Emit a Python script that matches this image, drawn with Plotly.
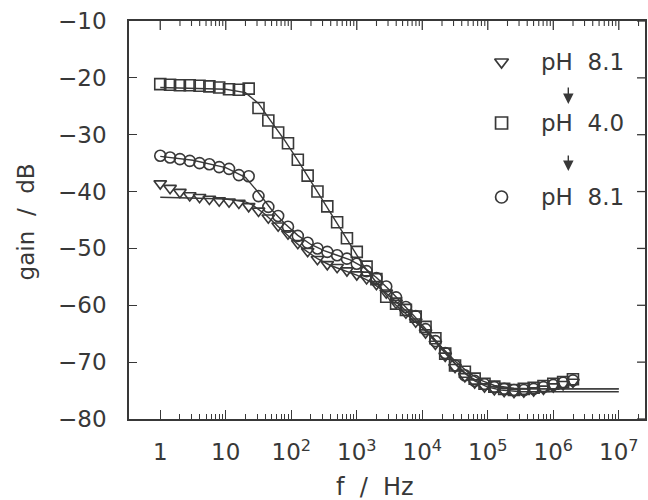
import math
import plotly.graph_objects as go

# ---- data (log10 of frequency in Hz, gain in dB) ----
LOGF = [0.00, 0.15, 0.30, 0.45, 0.60, 0.75, 0.90, 1.05, 1.20, 1.35, 1.50,
        1.65, 1.80, 1.95, 2.10, 2.25, 2.40, 2.55, 2.70, 2.85, 3.00, 3.15,
        3.30, 3.45, 3.60, 3.75, 3.90, 4.05, 4.20, 4.35, 4.50, 4.65, 4.80,
        4.95, 5.10, 5.25, 5.40, 5.55, 5.70, 5.85, 6.00, 6.15, 6.30]

gain_ph81_a = [-38.6, -39.4, -40.1, -40.7, -41.0, -41.3, -41.6, -41.8, -42.0, -42.6, -43.4,
               -44.6, -46.0, -47.4, -49.1, -50.5, -51.9, -52.8, -53.3, -53.9, -54.6, -55.3,
               -56.3, -57.8, -59.6, -61.3, -62.9, -64.8, -66.8, -68.9, -70.9, -72.5, -73.6,
               -74.3, -74.8, -75.1, -75.3, -75.2, -75.0, -74.7, -74.3, -73.9, -73.5]

gain_ph40 = [-21.1, -21.2, -21.3, -21.3, -21.4, -21.5, -21.7, -22.0, -22.1, -21.9, -25.3,
             -27.5, -29.6, -31.5, -34.4, -37.2, -40.0, -42.6, -45.4, -48.2, -50.6, -53.2,
             -55.4, -58.5, -59.7, -60.8, -62.0, -63.8, -65.8, -68.5, -70.6, -71.7, -72.9,
             -73.8, -74.3, -74.7, -74.9, -74.7, -74.5, -74.2, -73.8, -73.5, -73.0]

gain_ph81_b = [-33.7, -34.0, -34.3, -34.6, -35.0, -35.2, -35.7, -36.0, -37.1, -37.3, -40.8,
               -42.7, -44.3, -46.2, -47.8, -49.0, -50.0, -50.6, -51.2, -51.8, -52.7, -54.0,
               -55.2, -56.7, -58.6, -60.3, -61.9, -64.2, -66.3, -68.4, -70.6, -72.3, -73.3,
               -73.9, -74.4, -74.7, -74.9, -74.9, -74.7, -74.4, -74.0, -73.6, -73.2]

# fitted curves
FIT_A_LOGF = [0.0, 0.5, 1.0, 1.3, 1.4, 1.6, 1.8, 2.0, 2.2, 2.4, 2.6, 2.8, 3.0, 3.2, 3.4,
              3.6, 3.8, 4.0, 4.2, 4.4, 4.6, 4.8, 5.0, 5.2, 5.5, 6.0, 7.0]
FIT_A_GAIN = [-41.0, -41.1, -41.3, -41.8, -42.3, -44.0, -46.2, -48.3, -50.2, -51.8, -53.0,
              -53.9, -54.7, -55.8, -57.4, -59.4, -61.5, -63.8, -66.4, -69.1, -71.5, -73.3,
              -74.4, -74.9, -75.2, -75.2, -75.2]

FIT_40_LOGF = [0.0, 0.5, 1.0, 1.3, 1.5, 1.7, 1.9, 2.1, 2.3, 2.5, 2.7, 2.9, 3.1, 3.3, 3.5,
               3.7, 3.9, 4.1, 4.3, 4.5, 4.7, 4.9, 5.1, 5.4, 5.8, 6.3, 7.0]
FIT_40_GAIN = [-21.7, -21.8, -22.0, -22.6, -24.5, -27.8, -31.0, -34.5, -38.2, -42.0, -45.8,
               -49.5, -53.0, -56.0, -59.0, -61.0, -63.0, -65.0, -67.4, -69.8, -71.8, -73.2,
               -74.1, -74.6, -74.7, -74.7, -74.7]

FIT_B_LOGF = [0.0, 0.5, 1.0, 1.3, 1.5, 1.7, 1.9, 2.1, 2.3, 2.5, 2.7, 2.9, 3.1, 3.3, 3.5,
              3.7, 3.9, 4.1, 4.3, 4.5, 4.7, 4.9, 5.1, 5.4, 6.0, 7.0]
FIT_B_GAIN = [-33.8, -34.5, -35.8, -37.5, -40.2, -43.2, -45.6, -47.7, -49.3, -50.4, -51.2,
              -52.0, -53.3, -55.1, -57.3, -59.7, -62.2, -64.8, -67.6, -70.2, -72.4, -73.7,
              -74.4, -74.7, -74.7, -74.7]

X_TICKS = [1, 10, 100, 1e3, 1e4, 1e5, 1e6, 1e7]
X_TICKTEXT = ["1", "10", "10<sup>2</sup>", "10<sup>3</sup>", "10<sup>4</sup>",
              "10<sup>5</sup>", "10<sup>6</sup>", "10<sup>7</sup>"]
Y_TICKS = [-80, -70, -60, -50, -40, -30, -20, -10]
Y_TICKTEXT = ["\u221280", "\u221270", "\u221260", "\u221250", "\u221240", "\u221230",
              "\u221220", "\u221210"]

LEGEND_LABELS = ["pH\u00a0\u00a08.1", "pH\u00a0\u00a04.0", "pH\u00a0\u00a08.1"]
X_TITLE = "f\u00a0\u00a0/\u00a0\u00a0Hz"
Y_TITLE = "gain\u00a0\u00a0/\u00a0\u00a0dB"

# ---- style ----
INK = "#383838"
FONT = "DejaVu Sans, Arial, sans-serif"
W, H = 648, 500
L, R, T, B = 129, 1, 21, 81
PX0, PX1, PY0, PY1 = L, W - R, T, H - B   # plot area in pixels
X_RANGE = [-0.477, 7.40]
Y_RANGE = [-80, -10]
PLOT_W = PX1 - PX0
PLOT_H = PY1 - PY0


def tohz(lst):
    return [10 ** v for v in lst]


def paper_x(px):
    return (px - PX0) / PLOT_W


def paper_y(py):
    return (PY1 - py) / PLOT_H


fig = go.Figure()

for lx, ly in [(FIT_A_LOGF, FIT_A_GAIN), (FIT_40_LOGF, FIT_40_GAIN), (FIT_B_LOGF, FIT_B_GAIN)]:
    fig.add_trace(go.Scatter(x=tohz(lx), y=ly, mode="lines",
                             line=dict(color=INK, width=1.4), showlegend=False,
                             hoverinfo="skip"))

series = [(gain_ph81_a, "triangle-down-open"),
          (gain_ph40, "square-open"),
          (gain_ph81_b, "circle-open")]
for g, sym in series:
    fig.add_trace(go.Scatter(x=tohz(LOGF), y=g, mode="markers",
                             marker=dict(symbol=sym, size=11, color=INK,
                                         line=dict(color=INK, width=1.6)),
                             showlegend=False))

# mirrored ticks on top and right edges, drawn on a unit overlay axis (0..1 = plot area)
minor_vals = [k * 10 ** d for d in range(0, 8) for k in range(2, 10)]
xspan = X_RANGE[1] - X_RANGE[0]
yspan = Y_RANGE[1] - Y_RANGE[0]


def tick_path(vals, length_px):
    xs, ys = [], []
    for v in vals:
        u = (math.log10(v) - X_RANGE[0]) / xspan
        if 0 < u < 1:
            xs += [u, u, None]
            ys += [1, 1 - length_px / PLOT_H, None]
    return xs, ys


for vals, ln, wd in [(X_TICKS, 9, 1.3), (minor_vals, 5, 1.1)]:
    xs, ys = tick_path(vals, ln)
    fig.add_trace(go.Scatter(x=xs, y=ys, xaxis="x2", yaxis="y2", mode="lines",
                             line=dict(color=INK, width=wd), showlegend=False,
                             hoverinfo="skip", cliponaxis=False))
rx, ry = [], []
for v in Y_TICKS:
    u = (v - Y_RANGE[0]) / yspan
    rx += [1, 1 - 8 / PLOT_W, None]
    ry += [u, u, None]
fig.add_trace(go.Scatter(x=rx, y=ry, xaxis="x2", yaxis="y2", mode="lines",
                         line=dict(color=INK, width=1.3), showlegend=False,
                         hoverinfo="skip", cliponaxis=False))

# legend glyphs on the same unit overlay axis
gx = 503
leg_px_y = [62, 123, 197]
for (g, sym), yy in zip(series, leg_px_y):
    fig.add_trace(go.Scatter(x=[paper_x(gx)], y=[paper_y(yy)], xaxis="x2", yaxis="y2",
                             mode="markers",
                             marker=dict(symbol=sym, size=12, color=INK,
                                         line=dict(color=INK, width=1.7)),
                             showlegend=False, hoverinfo="skip"))

annotations = []
for lab, yy in zip(LEGEND_LABELS, leg_px_y):
    annotations.append(dict(x=paper_x(541), y=paper_y(yy), xref="paper", yref="paper",
                            text=lab, showarrow=False, xanchor="left", yanchor="middle",
                            font=dict(size=23, color=INK, family=FONT)))
for y0, y1 in [(86, 104), (154, 171)]:
    annotations.append(dict(x=paper_x(570), y=paper_y(y1), xref="paper", yref="paper",
                            ax=0, ay=-(y1 - y0), text="", showarrow=True,
                            arrowhead=2, arrowsize=1.5, arrowwidth=1.4,
                            arrowcolor=INK))
annotations.append(dict(x=paper_x(26), y=paper_y(222), xref="paper", yref="paper",
                        text=Y_TITLE, textangle=-90, showarrow=False,
                        xanchor="center", yanchor="middle",
                        font=dict(size=23, color=INK, family=FONT)))
annotations.append(dict(x=paper_x(376), y=paper_y(487), xref="paper", yref="paper",
                        text=X_TITLE, showarrow=False, xanchor="center", yanchor="middle",
                        font=dict(size=24, color=INK, family=FONT)))

fig.update_layout(
    width=W, height=H,
    margin=dict(l=L, r=R, t=T, b=B, pad=0),
    paper_bgcolor="white", plot_bgcolor="white",
    font=dict(family=FONT, size=23, color=INK),
    showlegend=False,
    xaxis=dict(type="log", range=X_RANGE, tickmode="array", tickvals=X_TICKS,
               ticktext=X_TICKTEXT,
               ticks="inside", ticklen=9, tickwidth=1.3, tickcolor=INK,
               minor=dict(tickmode="array", tickvals=minor_vals, ticks="inside",
                          ticklen=5, tickwidth=1.1, tickcolor=INK, showgrid=False),
               showline=True, linecolor=INK, linewidth=1.6, mirror=True,
               showgrid=False, zeroline=False, fixedrange=True, ticklabelstandoff=12,
               tickfont=dict(size=23, color=INK, family=FONT)),
    yaxis=dict(range=Y_RANGE, tickmode="array", tickvals=Y_TICKS, ticktext=Y_TICKTEXT,
               ticks="inside", ticklen=8, tickwidth=1.3, tickcolor=INK,
               showline=True, linecolor=INK, linewidth=1.6, mirror=True,
               showgrid=False, zeroline=False, fixedrange=True, ticklabelstandoff=16,
               tickfont=dict(size=23, color=INK, family=FONT)),
    xaxis2=dict(overlaying="x", range=[0, 1], visible=False, fixedrange=True),
    yaxis2=dict(overlaying="y", range=[0, 1], visible=False, fixedrange=True),
    annotations=annotations,
)

fig.write_html("out.html")
